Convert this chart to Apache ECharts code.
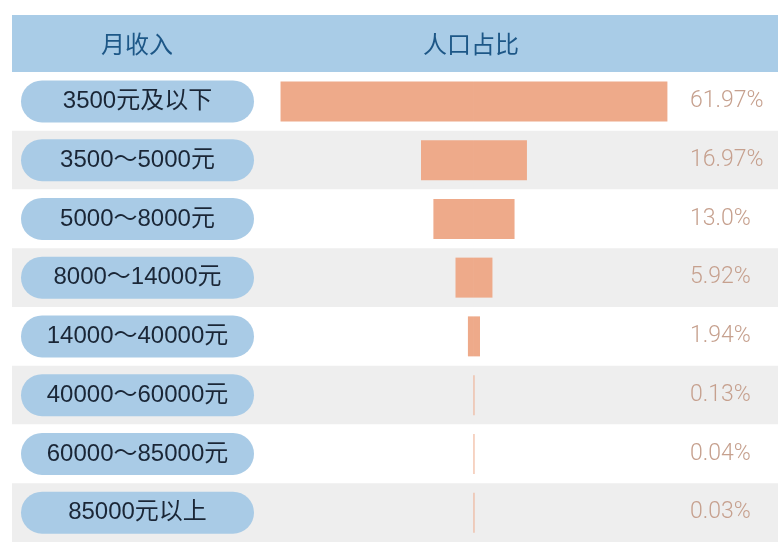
<!DOCTYPE html>
<html><head><meta charset="utf-8">
<script src="https://cdn.jsdelivr.net/npm/echarts@6/dist/echarts.min.js"></script>
<style>html,body{margin:0;padding:0;background:#fff}#c{width:778px;height:542px}</style>
</head><body><div id="c"></div><script>
const categories = ['3500元及以下','3500～5000元','5000～8000元','8000～14000元','14000～40000元','40000～60000元','60000～85000元','85000元以上'];
const shares = [61.97, 16.97, 13.0, 5.92, 1.94, 0.13, 0.04, 0.03];
const shareLabels = ['61.97%','16.97%','13.0%','5.92%','1.94%','0.13%','0.04%','0.03%'];
const headers = ['月收入', '人口占比'];

const leftHalf = shares.map(v => -v / 2);
const rightHalf = shares.map(v => v / 2);

const chart = echarts.init(document.getElementById('c'), null, {renderer: 'canvas'});
const barColor = '#eeaa8a';
const latin = '"Liberation Sans", "Noto Sans CJK SC", sans-serif';
chart.setOption({
  animation: false,
  backgroundColor: '#ffffff',
  grid: {left: 12, right: 0, top: 72, bottom: 0, containLabel: false},
  graphic: [
    {type: 'rect', z: 0, shape: {x: 12, y: 15, width: 766, height: 57}, style: {fill: '#a9cce7'}},
    {type: 'text', z: 1, x: 137, y: 44, style: {text: headers[0], fill: '#1d5787', fontSize: 24, fontFamily: 'Noto Sans CJK SC', align: 'center', verticalAlign: 'middle'}},
    {type: 'text', z: 1, x: 471, y: 44, style: {text: headers[1], fill: '#1d5787', fontSize: 24, fontFamily: 'Noto Sans CJK SC', align: 'center', verticalAlign: 'middle'}}
  ],
  xAxis: {type: 'value', min: -74, max: 48.7, show: false},
  yAxis: [
    {
      type: 'category', inverse: true, data: categories, position: 'left',
      axisLine: {show: false}, axisTick: {show: false}, splitLine: {show: false},
      splitArea: {show: true, areaStyle: {color: ['#ffffff', '#eeeeee']}},
      axisLabel: {
        inside: true, margin: 9,
        formatter: v => '{p|' + v + '}',
        rich: {p: {width: 233, height: 42, lineHeight: 42, align: 'center', backgroundColor: '#a9cbe6', borderRadius: 21, color: '#1a2636', fontSize: 24, fontFamily: latin}}
      }
    },
    {
      type: 'category', inverse: true, data: shareLabels, position: 'right',
      axisLine: {show: false}, axisTick: {show: false}, splitLine: {show: false},
      axisLabel: {inside: true, margin: 88, align: 'left', color: '#c6a08e', fontSize: 23, fontFamily: 'Roboto', fontWeight: 300}
    }
  ],
  series: [
    {type: 'bar', yAxisIndex: 0, data: leftHalf, barWidth: 40, barGap: '-100%', barMinHeight: 0.5, itemStyle: {color: barColor}},
    {type: 'bar', yAxisIndex: 0, data: rightHalf, barWidth: 40, barGap: '-100%', barMinHeight: 0.5, itemStyle: {color: barColor}}
  ]
});
</script></body></html>
